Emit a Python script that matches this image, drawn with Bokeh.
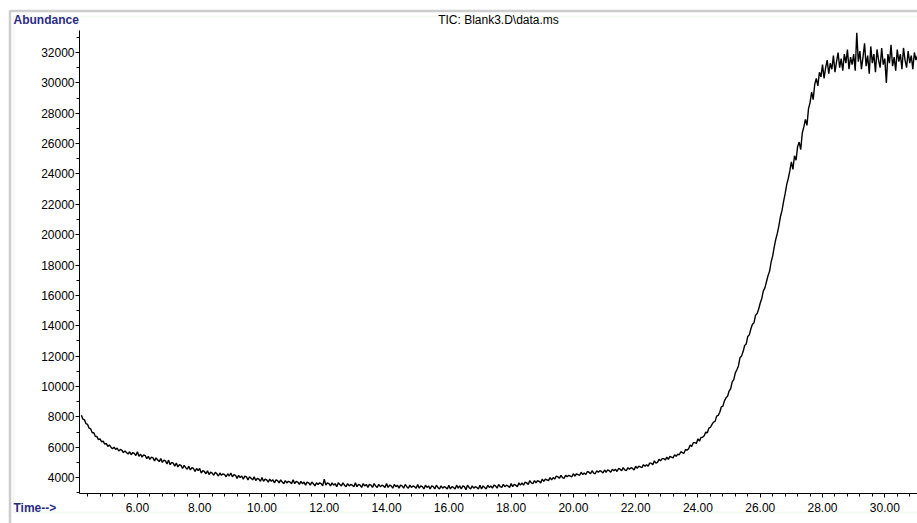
from bokeh.plotting import figure
from bokeh.models import (Range1d, FixedTicker, PrintfTickFormatter, Label, BoxAnnotation,
                          ColumnDataSource)
from bokeh.embed import file_html
from bokeh.resources import INLINE

t_start = 4.2
t_step = 0.05
abundance = [
    # 4.20 - 4.95
    8100, 7850, 7800, 7550, 7500, 7250, 7200, 6950, 6950, 6700, 6700, 6500, 6550, 6350, 6400, 6200,
    # 5
    6250, 6050, 6150, 6000, 5900, 6000, 5850, 5950, 5750, 5850, 5800, 5650, 5750, 5650, 5550, 5700, 5500, 5650, 5600, 5450,
    # 6
    5700, 5400, 5550, 5350, 5500, 5450, 5250, 5400, 5200, 5350, 5300, 5100, 5300, 5150, 5050, 5250, 5000, 5150, 5100, 4900,
    # 7
    5150, 4850, 5000, 4950, 4750, 4950, 4700, 4850, 4800, 4600, 4800, 4650, 4550, 4750, 4500, 4650, 4600, 4400, 4600, 4450,
    # 8
    4600, 4300, 4450, 4400, 4250, 4450, 4200, 4350, 4300, 4150, 4350, 4250, 4100, 4300, 4150, 4250, 4200, 4050, 4250, 4100,
    # 9
    4300, 4050, 4200, 4150, 3950, 4150, 4000, 4100, 3900, 4100, 4050, 3850, 4050, 3950, 3850, 4050, 3800, 3950, 3900, 3750,
    # 10
    4000, 3750, 3900, 3850, 3700, 3900, 3750, 3850, 3650, 3850, 3800, 3650, 3850, 3700, 3600, 3800, 3650, 3750, 3700, 3600,
    # 11
    3850, 3600, 3750, 3700, 3550, 3750, 3600, 3700, 3500, 3700, 3650, 3500, 3700, 3600, 3450, 3650, 3550, 3650, 3600, 3450,
    # 12
    3900, 3500, 3650, 3600, 3450, 3650, 3500, 3600, 3400, 3650, 3550, 3450, 3650, 3500, 3400, 3600, 3450, 3550, 3500, 3400,
    # 13
    3650, 3400, 3550, 3500, 3350, 3600, 3450, 3550, 3350, 3550, 3500, 3350, 3600, 3450, 3350, 3550, 3400, 3500, 3450, 3350,
    # 14
    3600, 3350, 3500, 3450, 3300, 3550, 3400, 3500, 3300, 3500, 3450, 3300, 3550, 3400, 3300, 3500, 3350, 3450, 3400, 3300,
    # 15
    3550, 3300, 3450, 3400, 3250, 3500, 3350, 3450, 3250, 3450, 3400, 3250, 3500, 3350, 3250, 3450, 3300, 3400, 3350, 3250,
    # 16
    3500, 3250, 3400, 3350, 3250, 3500, 3300, 3450, 3250, 3450, 3400, 3200, 3500, 3350, 3250, 3450, 3300, 3400, 3350, 3250,
    # 17
    3500, 3250, 3450, 3350, 3250, 3500, 3350, 3450, 3300, 3500, 3450, 3300, 3550, 3400, 3350, 3550, 3400, 3500, 3450, 3350,
    # 18
    3600, 3400, 3550, 3500, 3400, 3650, 3500, 3650, 3500, 3700, 3650, 3550, 3800, 3650, 3600, 3800, 3650, 3800, 3750, 3650,
    # 19
    3900, 3750, 3900, 3850, 3800, 4000, 3850, 4000, 3900, 4100, 4050, 3950, 4150, 4000, 3950, 4150, 4050, 4150, 4100, 4050,
    # 20
    4250, 4100, 4250, 4200, 4150, 4350, 4200, 4300, 4200, 4400, 4350, 4250, 4450, 4300, 4250, 4450, 4350, 4450, 4400, 4300,
    # 21
    4500, 4350, 4500, 4450, 4350, 4550, 4450, 4550, 4400, 4600, 4550, 4450, 4650, 4500, 4450, 4650, 4550, 4650, 4600, 4500,
    # 22
    4750, 4600, 4750, 4700, 4650, 4850, 4750, 4850, 4750, 4950, 4950, 4850, 5100, 4950, 5000, 5200, 5100, 5250, 5250, 5150,
    # 23
    5350, 5200, 5400, 5350, 5300, 5500, 5400, 5550, 5500, 5700, 5650, 5600, 5850, 5800, 5900, 6150, 6050, 6300, 6300, 6250,
    # 24
    6550, 6400, 6650, 6650, 6750, 7000, 6950, 7250, 7300, 7500, 7650, 7700, 8050, 8100, 8300, 8650, 8700, 9050, 9250, 9350,
    # 25
    9700, 9850, 10300, 10450, 10900, 11100, 11350, 11900, 12000, 12300, 12700, 12800, 13300, 13400, 13800, 14100, 14200, 14700, 14800, 15100,
    # 26
    15500, 15800, 16300, 16500, 16900, 17300, 17600, 18200, 18600, 19200, 19700, 20100, 20600, 21200, 21600, 22200, 22700, 23300, 23700, 24200,
    # 27
    24800, 24300, 25200, 24900, 25800, 26100, 25600, 26700, 27100, 27600, 27200, 28300, 28700, 29400, 28900, 29900, 30300, 29800, 30700, 30400,
    # 28
    31200, 30300, 31000, 31500, 30600, 31300, 30900, 31800, 30700, 31400, 32000, 31000, 31600, 30800, 31900, 31300, 32200, 30900, 31700, 31200,
    # 29
    31900, 30800, 33300, 31400, 32100, 30900, 31700, 32600, 31100, 31800, 30600, 32400, 31300, 31900, 30700, 32200, 31500, 31000, 32300, 31200,
    # 30
    31600, 30000, 31900, 31300, 32500, 31100, 31700, 30800, 32200, 31400, 31900, 30900, 32300, 31500, 31000, 32100, 31300, 31800, 30900, 32000,
    # 31.00 - 31.05
    31500, 31800,
]
times = [round(t_start + t_step * i, 3) for i in range(len(abundance))]

x_major = [6, 8, 10, 12, 14, 16, 18, 20, 22, 24, 26, 28, 30]
y_major = [4000, 6000, 8000, 10000, 12000, 14000, 16000, 18000, 20000,
           22000, 24000, 26000, 28000, 30000, 32000]
title_text = "TIC: Blank3.D\\data.ms"
y_label_text = "Abundance"
x_label_text = "Time-->"

# ---- geometry (canvas pixels); the frame fills the whole canvas ----
W, H = 917, 523
AX_LEFT, AX_TOP, AX_BOTTOM = 79, 30, 493     # where the axes sit on the canvas
X0, X1 = 4.14, 31.05                          # data extent of the x axis
Y0, Y1 = 2950, 33450                          # data extent of the y axis
px_x = (W - AX_LEFT) / (X1 - X0)
px_y = (AX_BOTTOM - AX_TOP) / (Y1 - Y0)
x_range = Range1d(X0 - AX_LEFT / px_x, X1)
y_range = Range1d(Y0 - (H - AX_BOTTOM) / px_y, Y1 + AX_TOP / px_y)

p = figure(width=W, height=H, output_backend="svg", toolbar_location=None,
           x_range=x_range, y_range=y_range,
           min_border_left=0, min_border_right=0, min_border_top=0, min_border_bottom=0)
p.outline_line_color = None
p.xgrid.visible = False
p.ygrid.visible = False
p.background_fill_color = "white"
p.border_fill_color = "white"


# screen units: x from canvas left, y from canvas bottom (upwards)
def sy(canvas_y):
    return H - canvas_y


# window frame decoration (dark outer edge, light green inner edge)
p.add_layout(BoxAnnotation(left=9.5, right=W + 20, top=sy(10.5), bottom=sy(H + 20),
                           left_units="screen", right_units="screen",
                           top_units="screen", bottom_units="screen",
                           fill_alpha=0, line_color="#5a5a5a", line_width=2.5,
                           level="underlay"))
p.add_layout(BoxAnnotation(left=13, right=W + 20, top=sy(16), bottom=sy(512),
                           left_units="screen", right_units="screen",
                           top_units="screen", bottom_units="screen",
                           fill_alpha=0, line_color="#cfe8c8", line_width=1.5,
                           level="underlay"))

src = ColumnDataSource(dict(t=times, a=abundance))
p.line("t", "a", source=src, line_color="black", line_width=1.4)

font = "Liberation Sans"
x_minor = [round(4.4 + 0.4 * k, 2) for k in range(67) if round(4.4 + 0.4 * k, 2) not in x_major]
y_minor = [3000 + 2000 * k for k in range(16)]

xa = p.xaxis[0]
xa.ticker = FixedTicker(ticks=x_major, minor_ticks=x_minor)
xa.formatter = PrintfTickFormatter(format="%.2f")
xa.fixed_location = Y0
xa.bounds = (X0, X1)
ya = p.yaxis[0]
ya.ticker = FixedTicker(ticks=y_major, minor_ticks=y_minor)
ya.formatter = PrintfTickFormatter(format="%d")
ya.fixed_location = X0
ya.bounds = (Y0, Y1)
for ax in (xa, ya):
    ax.axis_line_color = "black"
    ax.axis_line_width = 1
    ax.major_tick_line_color = "black"
    ax.minor_tick_line_color = "black"
    ax.major_tick_in = 0
    ax.minor_tick_in = 0
    ax.major_tick_out = 4
    ax.minor_tick_out = 3
    ax.major_label_text_font = font
    ax.major_label_text_font_size = "12px"
    ax.major_label_text_color = "#000000"
xa.major_label_standoff = 5
ya.major_label_standoff = 1

p.add_layout(Label(x=13, y=sy(19), x_units="screen", y_units="screen",
                   text=y_label_text, text_font=font, text_font_size="12px",
                   text_font_style="bold", text_color="#2b2b86", text_baseline="middle"))
p.add_layout(Label(x=13, y=sy(507), x_units="screen", y_units="screen",
                   text=x_label_text, text_font=font, text_font_size="12px",
                   text_font_style="bold", text_color="#2b2b86", text_baseline="middle"))
p.add_layout(Label(x=498, y=sy(19), x_units="screen", y_units="screen",
                   text=title_text, text_font=font, text_font_size="12px",
                   text_color="#000000", text_align="center", text_baseline="middle"))

open("out.html", "w").write(file_html(p, INLINE))
